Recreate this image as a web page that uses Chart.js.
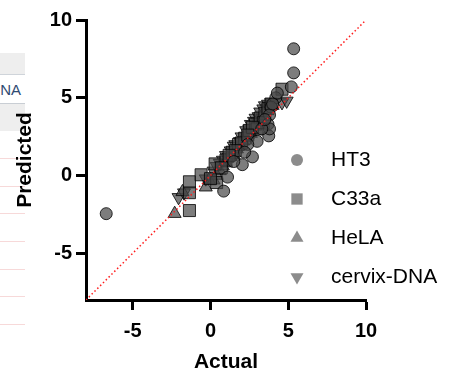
<!DOCTYPE html>
<html>
<head>
<meta charset="utf-8">
<script src="https://cdn.jsdelivr.net/npm/chart.js@4"></script>
<style>
  body { margin: 0; background: #fff; }
  #wrap { position: relative; width: 460px; height: 372px; overflow: hidden; }
  .band { position: absolute; left: 0; width: 25px; background: #eeeeee; }
  .rule { position: absolute; left: 0; width: 25px; height: 1px; background: #f7d9d9; }
  #na { position: absolute; left: 0; width: 21px; top: 81px; text-align: right;
        font: 15px "Liberation Sans", Arial, sans-serif; color: #2f4a72; }
  canvas { position: absolute; left: 0; top: 0; }
</style>
</head>
<body>
<div id="wrap">
  <div class="band" style="top:53px;height:21px;border-bottom:1px solid #cfd4da;"></div>
  <div id="na">NA</div>
  <div class="band" style="top:103px;height:27px;border-top:1px solid #c9ced4;"></div>
  <div class="rule" style="top:158px"></div>
  <div class="rule" style="top:186px"></div>
  <div class="rule" style="top:213px"></div>
  <div class="rule" style="top:241px"></div>
  <div class="rule" style="top:269px"></div>
  <div class="rule" style="top:296px"></div>
  <div class="rule" style="top:324px"></div>
  <canvas id="myChart" width="460" height="372"></canvas>
</div>
<script>
// ===== data
var seriesNames = ['HT3', 'C33a', 'HeLA', 'cervix-DNA'];

var ht3X = [-6.7, 5.35, 5.35, 5.2, 4.2, 3.9, 3.75, 2.7, 2.05, 1.1, 0.85, 3.8, 3.7, 3.8,
            3.3, 3.0, 2.4, 4.0, 3.5, 1.5, 2.2, 4.3];
var ht3Y = [-2.45, 8.15, 6.6, 5.7, 5.0, 4.4, 2.55, 1.2, 0.7, -0.1, -1.0, 3.9, 3.3, 3.0,
            3.0, 2.2, 2.0, 4.6, 3.6, 0.9, 1.5, 5.3];

var c33aX = [-1.35, -1.35, -1.35, -0.6, 0.3, 0.4, 4.6, 1.0, 1.4, 1.8, 2.2, 2.5, 2.9, 3.2, 3.0, 3.5, 2.0, 3.4,
             0.0, 0.7, 1.6, 2.7, 3.7, 3.9, 1.2, 2.4];
var c33aY = [-2.25, -1.1, -0.4, 0.05, 0.75, -0.45, 5.55, 1.0, 1.5, 2.0, 2.4, 2.9, 3.3, 3.7, 3.0, 4.0, 2.1, 3.4,
             -0.2, 0.5, 1.6, 3.1, 4.3, 4.6, 1.3, 2.6];

var helaX = [-2.3, -1.8, -0.3, 0.2, 0.6, 1.0, 1.3, 1.7, 2.1, 2.4, 2.7, 3.0, 3.3, 3.6, 4.0, 1.5, 2.6,
             0.4, 0.8, 1.9, 2.2, 2.9, 3.4, 3.8, 1.1, -0.1];
var helaY = [-2.45, -1.05, -0.75, -0.3, 0.3, 0.8, 1.2, 1.7, 2.2, 2.6, 3.0, 3.5, 3.8, 4.3, 4.5, 1.3, 2.7,
             0.0, 0.6, 1.9, 2.5, 3.2, 4.0, 4.5, 1.1, -0.3];

var cervixX = [-2.05, -0.3, 0.2, 0.6, 1.0, 1.3, 1.6, 2.0, 2.3, 2.6, 2.9, 3.2, 3.5, 3.9, 4.6, 4.9, 1.2,
               0.4, 0.8, 1.5, 1.9, 2.5, 2.8, 3.1, 3.4, 3.7, -1.7];
var cervixY = [-1.4, -0.2, 0.3, 0.8, 1.3, 1.6, 2.0, 2.5, 2.9, 3.3, 3.7, 4.1, 4.5, 4.7, 4.7, 4.8, 1.2,
               0.6, 1.0, 1.9, 2.2, 3.0, 3.5, 3.8, 4.3, 4.6, -1.1];

var lineX = [-8, 10];
var lineY = [-8, 10];

var xTicks = [-5, 0, 5, 10];
var yTicks = [-5, 0, 5, 10];

function pts(xs, ys) {
    var out = [];
    for (var i in xs) {
        out.push({x: xs[i], y: ys[i]});
    }
    return out;
}

var markFill = 'rgba(70,70,70,0.7)';
var markEdge = 'rgba(0,0,0,0.8)';
var styles = ['circle', 'rect', 'triangle', 'triangle'];
var rotations = [0, 0, 0, 180];
var radii = [6, 8.5, 7.5, 7.5];
var legendRadii = [6, 8, 7.5, 7.5];
var fontName = '"Liberation Sans", Arial, sans-serif';

// legend drawn next to the plot, partly over it
const sideLegend = {
    id: 'sideLegend',
    afterDatasetsDraw: function(chart) {
        var ctx = chart.ctx;
        ctx.save();
        seriesNames.forEach(function(name, i) {
            var y = 160 + i * 39;
            ctx.fillStyle = 'rgba(70,70,70,0.62)';
            Chart.helpers.drawPoint(ctx, {
                pointStyle: styles[i], rotation: rotations[i],
                radius: legendRadii[i], borderWidth: 0
            }, 297, y);
            ctx.fillStyle = '#000';
            ctx.font = '21px ' + fontName;
            ctx.textBaseline = 'middle';
            ctx.textAlign = 'left';
            ctx.fillText(name, 331, y);
        });
        ctx.restore();
    }
};

var allX = [ht3X, c33aX, helaX, cervixX];
var allY = [ht3Y, c33aY, helaY, cervixY];
var datasets = seriesNames.map(function(name, i) {
    return {
        label: name,
        data: pts(allX[i], allY[i]),
        pointStyle: styles[i],
        rotation: rotations[i],
        pointRadius: radii[i],
        backgroundColor: markFill,
        borderColor: markEdge,
        borderWidth: 1,
        order: 1
    };
});
datasets.push({
    label: 'identity',
    type: 'line',
    data: pts(lineX, lineY),
    borderColor: '#ff1a1a',
    borderWidth: 1.5,
    borderDash: [1.5, 2.5],
    pointRadius: 0,
    fill: false,
    order: 0
});

const ctx = document.getElementById('myChart');
const myChart = new Chart(ctx, {
    type: 'scatter',
    data: { datasets: datasets },
    plugins: [sideLegend],
    options: {
        responsive: false,
        animation: false,
        devicePixelRatio: 1,
        layout: { padding: { left: 0, right: 94, top: 20, bottom: 0 } },
        plugins: {
            legend: { display: false },
            tooltip: { enabled: false }
        },
        scales: {
            x: {
                type: 'linear',
                min: -8,
                max: 10,
                afterBuildTicks: function(scale) {
                    scale.ticks = xTicks.map(function(v) { return {value: v}; });
                },
                afterFit: function(scale) { scale.height = 72; },
                grid: { drawOnChartArea: false, tickLength: 10, tickWidth: 3, tickColor: '#000' },
                border: { display: true, color: '#000', width: 3 },
                ticks: {
                    color: '#000', padding: 9, maxRotation: 0,
                    font: { family: fontName, size: 20, weight: 'bold' }
                },
                title: {
                    display: true, text: 'Actual', color: '#000',
                    padding: { top: 0, bottom: -3 },
                    font: { family: fontName, size: 21, weight: 'bold' }
                }
            },
            y: {
                type: 'linear',
                min: -8,
                max: 10,
                afterBuildTicks: function(scale) {
                    scale.ticks = yTicks.map(function(v) { return {value: v}; });
                },
                afterFit: function(scale) { scale.width = 86; },
                grid: { drawOnChartArea: false, tickLength: 10, tickWidth: 3, tickColor: '#000' },
                border: { display: true, color: '#000', width: 3 },
                ticks: {
                    color: '#000', padding: 4,
                    font: { family: fontName, size: 20, weight: 'bold' }
                },
                title: {
                    display: true, text: 'Predicted', color: '#000',
                    padding: { top: 13, bottom: 0 },
                    font: { family: fontName, size: 21, weight: 'bold' }
                }
            }
        }
    }
});
</script>
</body>
</html>
